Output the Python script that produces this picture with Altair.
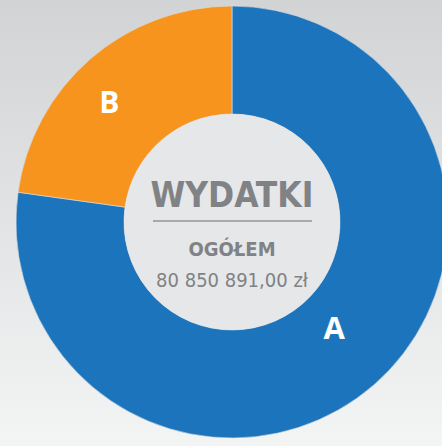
import altair as alt
import pandas as pd

categories = ["A", "B"]
values = [77.2, 22.8]
order = [1, 2]
slice_colors = ["#1c75bc", "#f7941d"]

title_text = "WYDATKI"
subtitle_text = "OGÓŁEM"
total_text = "80 850 891,00 zł"

W, H = 442, 446
CX, CY = 232, 222
R_OUT, R_IN = 216, 108

df = pd.DataFrame({"cat": categories, "val": values, "ord": order})
one = pd.DataFrame({"k": [0]})

bg = alt.Chart(one).mark_rect(
    color={"gradient": "linear", "x1": 0, "y1": 0, "x2": 0, "y2": 1,
           "stops": [{"offset": 0, "color": "#d2d3d5"}, {"offset": 1, "color": "#f3f4f4"}]}
).encode(x=alt.value(0), x2=alt.value(W), y=alt.value(0), y2=alt.value(H))

theta_scale = alt.Scale(domain=[0, 100], range=[0, 6.283185307])

stacked = alt.Chart(df).transform_stack(
    stack="val", groupby=[], as_=["v0", "v1"], sort=[alt.SortField("ord")]
).transform_calculate(mid="(datum.v0 + datum.v1) / 2")

arcs = stacked.mark_arc(radius=R_OUT, radius2=R_IN, stroke="#dcdde0", strokeWidth=0.6).encode(
    x=alt.value(CX), y=alt.value(CY),
    theta=alt.Theta("v0:Q", scale=theta_scale), theta2="v1:Q",
    color=alt.Color("cat:N", scale=alt.Scale(domain=categories, range=slice_colors), legend=None),
)

hole = alt.Chart(one).mark_arc(color="#e6e7e8").encode(
    x=alt.value(CX), y=alt.value(CY),
    theta=alt.value(0), theta2=alt.value(6.2832),
    radius=alt.value(R_IN), radius2=alt.value(0),
)

def label(cat, r, off, size):
    return stacked.transform_filter(alt.datum.cat == cat).mark_text(
        font="Open Sans", fontWeight="bold", fontSize=size, color="white",
        baseline="middle", align="center", thetaOffset=off).encode(
        x=alt.value(CX), y=alt.value(CY),
        theta=alt.Theta("mid:Q", scale=theta_scale),
        radius=alt.value(r), text="cat:N",
    )

lab_a = label("A", 149, -0.04, 31)
lab_b = label("B", 170, -0.09, 30)

NARROW = "Liberation Sans Narrow, DejaVu Sans Condensed, sans-serif"

t1 = alt.Chart(one).mark_text(font=NARROW, fontWeight="bold", fontSize=35, color="#808285",
                              baseline="alphabetic", align="center", text=title_text).encode(
    x=alt.value(CX), y=alt.value(207))
rule = alt.Chart(one).mark_rule(color="#a7a9ac", strokeWidth=2).encode(
    x=alt.value(153), x2=alt.value(312), y=alt.value(221))
t2 = alt.Chart(one).mark_text(font=NARROW, fontWeight="bold", fontSize=20, color="#808285",
                              baseline="alphabetic", align="center", text=subtitle_text).encode(
    x=alt.value(CX), y=alt.value(256))
t3 = alt.Chart(one).mark_text(font=NARROW, fontSize=20, color="#808285",
                              baseline="alphabetic", align="center", text=total_text).encode(
    x=alt.value(CX), y=alt.value(287))

chart = alt.layer(bg, arcs, hole, lab_a, lab_b, t1, rule, t2, t3).properties(
    width=W, height=H, autosize=alt.AutoSizeParams(type="none"), padding=0
).configure_view(stroke=None)

chart.save("out.html", embed_options={"renderer": "svg", "actions": False})
